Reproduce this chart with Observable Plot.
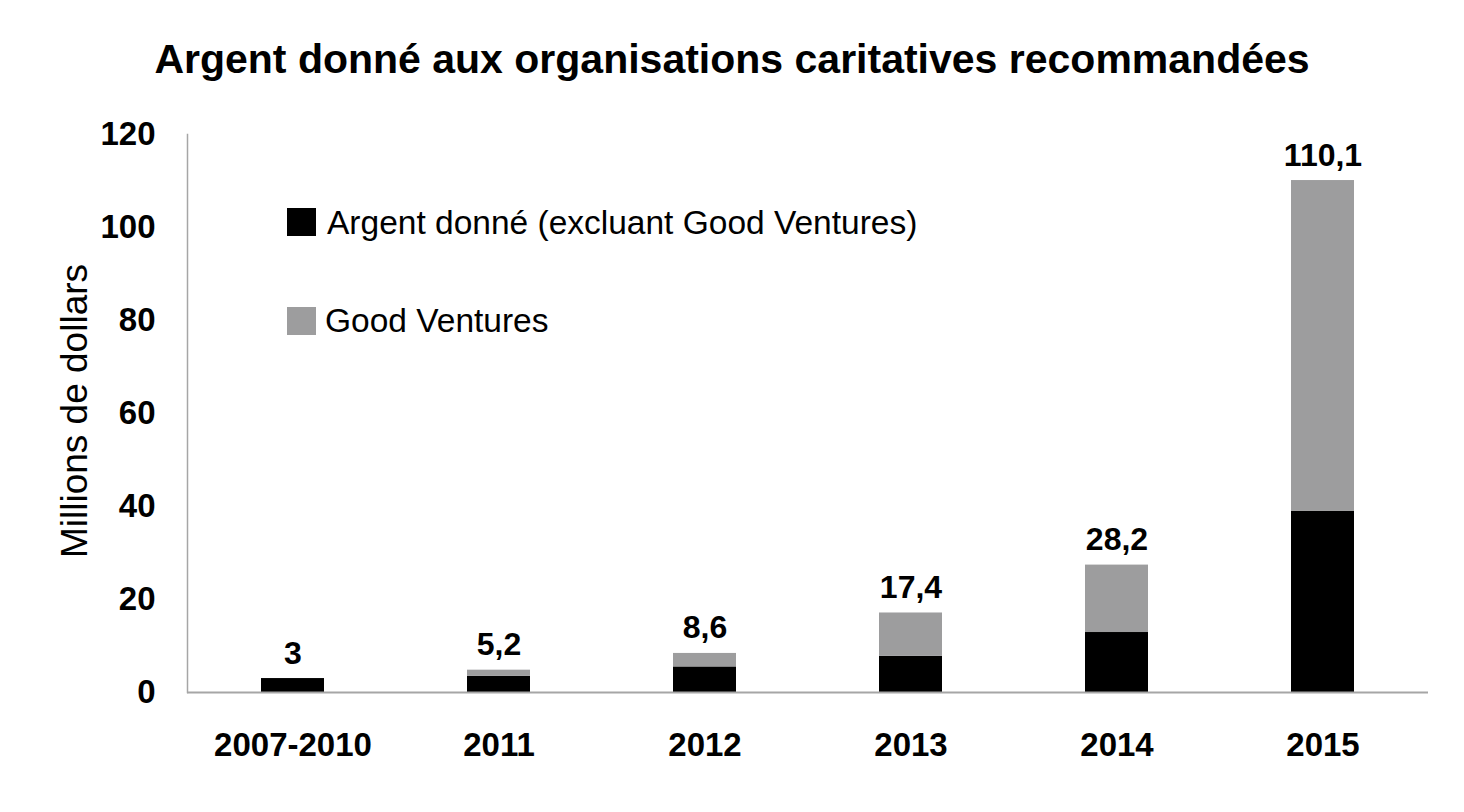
<!DOCTYPE html>
<html>
<head>
<meta charset="utf-8">
<script src="https://cdn.jsdelivr.net/npm/d3@7"></script>
<script src="https://cdn.jsdelivr.net/npm/@observablehq/plot@0.6"></script>
<style>
  html, body { margin: 0; padding: 0; background: #fff; }
  #wrap { position: relative; width: 1464px; height: 812px; font-family: "Liberation Sans", Arial, sans-serif; }
  #title { position: absolute; left: 0; top: 0; width: 1464px; height: 105px; text-align: center; font-weight: bold; font-size: 41px; line-height: 41px; }
  #title span { position: absolute; left: 0; right: 0; top: 39px; }
  #chart { position: absolute; left: 0; top: 105px; }
  #ylabel { position: absolute; left: 74px; top: 411px; transform: translate(-50%, -50%) rotate(-90deg); white-space: nowrap; font-size: 37px; line-height: 37px; }
  .leg { position: absolute; white-space: nowrap; font-size: 33.5px; line-height: 33.5px; }
  .sw { position: absolute; width: 29px; height: 28px; }
</style>
</head>
<body>
<div id="wrap">
  <div id="title"><span>Argent donné aux organisations caritatives recommandées</span></div>
  <div id="chart"></div>
  <div id="ylabel">Millions de dollars</div>
  <div id="legend"></div>
</div>
<script>
const categories = ["2007-2010", "2011", "2012", "2013", "2014", "2015"];
const seriesNames = ["Argent donné (excluant Good Ventures)", "Good Ventures"];
const seriesColors = ["#000000", "#9d9d9e"];
const excludingGV = [3, 3.5, 5.5, 7.8, 12.9, 39.0];
const goodVentures = [0, 1.3, 2.9, 9.3, 14.5, 71.1];
const totalLabels = ["3", "5,2", "8,6", "17,4", "28,2", "110,1"];
const yTicks = [0, 20, 40, 60, 80, 100, 120];

const rows = [];
categories.forEach((c, i) => {
  rows.push({cat: c, series: seriesNames[0], value: excludingGV[i]});
  rows.push({cat: c, series: seriesNames[1], value: goodVentures[i]});
});
const totals = categories.map((c, i) => ({cat: c, total: excludingGV[i] + goodVentures[i], label: totalLabels[i]}));

const plot = Plot.plot({
  width: 1464,
  height: 707,
  marginLeft: 187,
  marginRight: 36,
  marginTop: 29,
  marginBottom: 120,
  style: {fontFamily: "'Liberation Sans', Arial, sans-serif", background: "transparent"},
  x: {domain: categories, paddingInner: 0.695, paddingOuter: 0.3475, label: null},
  y: {domain: [0, 120], label: null},
  color: {domain: seriesNames, range: seriesColors},
  marks: [
    Plot.barY(rows, {x: "cat", y: "value", fill: "series", order: seriesNames}),
    Plot.ruleY([0], {stroke: "#a6a6a6", strokeWidth: 2}),
    Plot.frame({anchor: "left", stroke: "#a6a6a6", strokeWidth: 1.5}),
    Plot.text(totals, {x: "cat", y: "total", text: "label", dy: -15, lineAnchor: "bottom", fontSize: 32, fontWeight: "bold", fill: "#000"}),
    Plot.axisY({ticks: yTicks, tickSize: 0, tickPadding: 32, fontSize: 33, fontWeight: "bold", label: null, tickFormat: d => String(d), fill: "#000"}),
    Plot.axisX({tickSize: 0, tickPadding: 40, fontSize: 33, fontWeight: "bold", label: null, fill: "#000"})
  ]
});
document.getElementById("chart").appendChild(plot);

const legend = document.getElementById("legend");
const legTops = [208, 307];
const legTextTops = [206, 304];
seriesNames.forEach((name, i) => {
  const sw = document.createElement("div");
  sw.className = "sw";
  sw.style.left = "287px";
  sw.style.top = legTops[i] + "px";
  sw.style.background = seriesColors[i];
  legend.appendChild(sw);
  const t = document.createElement("div");
  t.className = "leg";
  t.style.left = (i === 0 ? 327 : 325) + "px";
  t.style.top = legTextTops[i] + "px";
  t.textContent = name;
  legend.appendChild(t);
});
</script>
</body>
</html>
